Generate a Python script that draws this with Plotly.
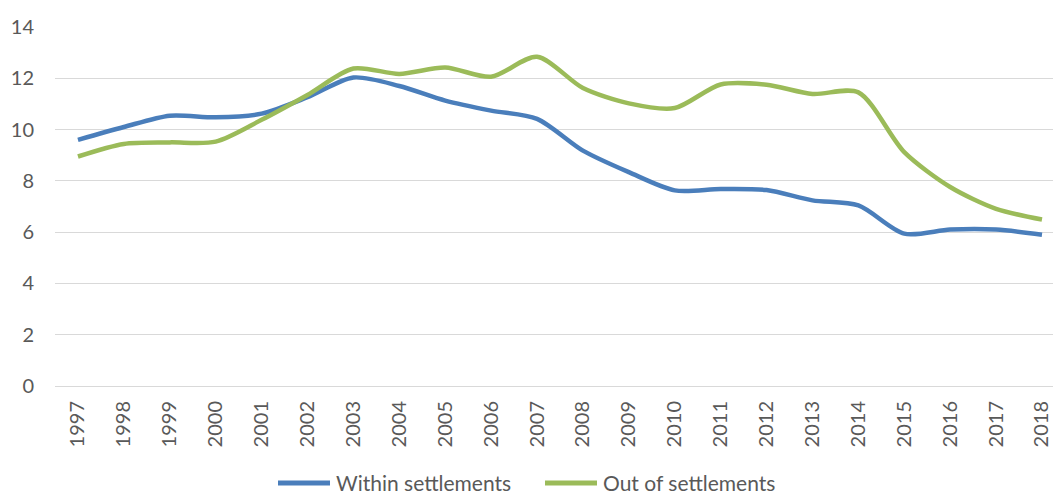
import plotly.graph_objects as go

years = [str(y) for y in range(1997, 2019)]
within = [9.6, 10.1, 10.54, 10.48, 10.62, 11.26, 12.03, 11.7, 11.13, 10.74, 10.42,
          9.18, 8.34, 7.63, 7.68, 7.64, 7.24, 7.04, 5.94, 6.1, 6.1, 5.9]
outside = [8.95, 9.44, 9.5, 9.53, 10.38, 11.35, 12.38, 12.17, 12.42, 12.06, 12.84,
           11.62, 11.02, 10.84, 11.76, 11.75, 11.39, 11.45, 9.12, 7.76, 6.91, 6.49]
y_ticks = [0, 2, 4, 6, 8, 10, 12, 14]
series_names = ["Within settlements", "Out of settlements"]
series_colors = ["#4a7ebb", "#9bbb59"]

FONT = "Lato, Carlito, 'Liberation Sans', sans-serif"
GREY = "#595959"
W, H = 1053, 498
ML, MR, MT, MB = 55, 0, 27, 112

fig = go.Figure()
for name, vals, col in zip(series_names, [within, outside], series_colors):
    fig.add_trace(go.Scatter(x=list(range(len(years))), y=vals, name=name, mode="lines",
                             line=dict(color=col, width=4.5, shape="spline", smoothing=0.8),
                             showlegend=False))

# custom legend (pixel positions converted to paper coords)
pw, ph = W - ML - MR, H - MT - MB
def px(p):
    return (p - ML) / pw
def py(q):
    return (H - MB - q) / ph

leg_y = 483
leg_items = [(278, 330, 334), (545, 597, 601)]
for (x0, x1, tx), name, col in zip(leg_items, series_names, series_colors):
    fig.add_shape(type="line", xref="paper", yref="paper", x0=px(x0), x1=px(x1),
                  y0=py(leg_y), y1=py(leg_y), line=dict(color=col, width=5))
    fig.add_annotation(xref="paper", yref="paper", x=px(tx), y=py(leg_y), text=name,
                       showarrow=False, xanchor="left", yanchor="middle",
                       font=dict(family=FONT, size=21, color=GREY))

fig.update_layout(
    width=W, height=H,
    margin=dict(l=ML, r=MR, t=MT, b=MB),
    paper_bgcolor="white", plot_bgcolor="white",
    font=dict(family=FONT, size=20, color=GREY),
    xaxis=dict(
        tickmode="array", tickvals=list(range(len(years))), ticktext=years,
        range=[-0.5, 21.24], tickangle=-90, showgrid=False, zeroline=False,
        showline=False, ticks="", ticklabelstandoff=10,
        tickfont=dict(family=FONT, size=20, color=GREY),
    ),
    yaxis=dict(
        range=[0, 14], tickvals=y_ticks, showgrid=True, gridcolor="#d9d9d9", gridwidth=1,
        zeroline=True, zerolinecolor="#d9d9d9", zerolinewidth=1, showline=False,
        ticks="", ticklabelstandoff=20,
        tickfont=dict(family=FONT, size=20, color=GREY),
    ),
    showlegend=False,
)

fig.write_html("out.html")
